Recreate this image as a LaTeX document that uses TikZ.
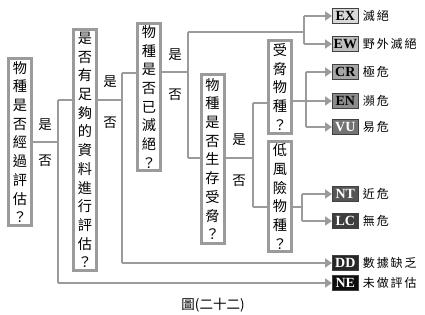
\documentclass[tikz,border=0pt]{standalone}
\usepackage{fontspec}
\setmainfont{Liberation Serif}
\newfontfamily\cjk{Noto Sans CJK TC}
\newfontfamily\cjkl[LetterSpace=16]{Noto Sans CJK TC}
\usetikzlibrary{arrows.meta}
\definecolor{ln}{HTML}{9B9B9B}
\definecolor{cEX}{HTML}{D9D9D9}
\definecolor{cEW}{HTML}{BFBFBF}
\definecolor{cCR}{HTML}{A6A6A6}
\definecolor{cEN}{HTML}{8C8C8C}
\definecolor{cVU}{HTML}{737373}
\definecolor{cNT}{HTML}{555555}
\definecolor{cLC}{HTML}{3E3E3E}
\definecolor{cDD}{HTML}{262626}
\definecolor{cNE}{HTML}{0D0D0D}
\tikzset{
  qbox/.style={draw=ln, line width=3pt, fill=white, inner sep=0pt,
    minimum width=23pt, align=center,
    font=\cjk\fontsize{14.2}{18.7}\selectfont},
  con/.style={draw=ln, line width=2.8pt},
  arr/.style={con, -{Triangle[length=7pt,width=9pt]}},
  code/.style={draw=black!75, line width=0.7pt, minimum width=26pt,
    minimum height=14.5pt, inner sep=0pt, anchor=west,
    font=\bfseries\fontsize{14}{14}\selectfont},
  lab/.style={anchor=west, inner sep=0pt, font=\cjkl\fontsize{12}{12}\selectfont},
  yn/.style={inner sep=0pt, font=\cjk\fontsize{13.5}{13.5}\selectfont},
}
\begin{document}
\begin{tikzpicture}[x=1pt,y=-1pt]
\useasboundingbox (0,0) rectangle (425,315);
% question boxes
\node[qbox, minimum height=167pt] (q1) at (20,142) {物\\種\\是\\否\\經\\過\\評\\估\\？};
\node[qbox, minimum height=241pt] (q2) at (85,150) {是\\否\\有\\足\\夠\\的\\資\\料\\進\\行\\評\\估\\？};
\node[qbox, minimum height=147pt] (q3) at (149,97) {物\\種\\是\\否\\已\\滅\\絕\\？};
\node[qbox, minimum height=169pt] (q4) at (212.5,159) {物\\種\\是\\否\\生\\存\\受\\脅\\？};
\node[qbox, minimum height=93pt] (q5) at (280,87) {受\\脅\\物\\種\\？};
\node[qbox, minimum height=110pt] (q6) at (280,196.5) {低\\風\\險\\物\\種\\？};
% yes / no labels
\node[yn] (y1) at (45,125) {是};
\node[yn] (n1) at (45,161) {否};
\node[yn] (y2) at (110,82) {是};
\node[yn] (n2) at (110,123) {否};
\node[yn] (y3) at (175,55) {是};
\node[yn] (n3) at (175,95) {否};
\node[yn] (y4) at (239,140) {是};
\node[yn] (n4) at (239,181) {否};
% code boxes
\node[code, fill=cEX] (EX) at (332,16) {EX};
\node[code, fill=cEW] (EW) at (332,44) {EW};
\node[code, fill=cCR] (CR) at (332,72) {CR};
\node[code, fill=cEN] (EN) at (332,101) {EN};
\node[code, fill=cVU, text=white] (VU) at (332,127) {VU};
\node[code, fill=cNT, text=white] (NT) at (332,194) {NT};
\node[code, fill=cLC, text=white] (LC) at (332,221) {LC};
\node[code, fill=cDD, text=white] (DD) at (332,263) {DD};
\node[code, fill=cNE, text=white] (NE) at (332,283) {NE};
% labels
\node[lab] (lEX) at ([xshift=4pt]EX.east) {滅絕};
\node[lab] (lEW) at ([xshift=4pt]EW.east) {野外滅絕};
\node[lab] (lCR) at ([xshift=4pt]CR.east) {極危};
\node[lab] (lEN) at ([xshift=4pt]EN.east) {瀕危};
\node[lab] (lVU) at ([xshift=4pt]VU.east) {易危};
\node[lab] (lNT) at ([xshift=4pt]NT.east) {近危};
\node[lab] (lLC) at ([xshift=4pt]LC.east) {無危};
\node[lab] (lDD) at ([xshift=4pt]DD.east) {數據缺乏};
\node[lab] (lNE) at ([xshift=4pt]NE.east) {未做評估};
% caption
\node[yn] (cap) at (213,305) {圖(二十二)};
% junction coordinates
\coordinate (b1t) at (58,100);
\coordinate (b1b) at (58,283);
\coordinate (b2t) at (122,73);
\coordinate (b2b) at (122,263);
\coordinate (b3t) at (188,32);
\coordinate (b3b) at (188,158);
\coordinate (b4t) at (253,103);
\coordinate (b4b) at (253,207);
\coordinate (b5) at (304,32);
\coordinate (b6) at (306,101);
\coordinate (b7) at (302,207);
% connectors level 1
\draw[con] (q1.east |- 0,142) -- (b1t |- 0,142);
\draw[con] (b1t) -- (b1b);
\draw[con] (b1t) -- (q2.west |- b1t);
\draw[arr] (b1b) -- (NE.west);
% level 2
\draw[con] (q2.east |- b1t) -- (b2t |- b1t);
\draw[con] (b2t) -- (b2b);
\draw[con] (b2t) -- (q3.west |- b2t);
\draw[arr] (b2b) -- (DD.west);
% level 3
\draw[con] (q3.east |- 0,72) -- (b3t |- 0,72);
\draw[con] (b3t) -- (b3b);
\draw[con] (b3b) -- (q4.west |- b3b);
\draw[con] (b3t) -- (b5);
\draw[con] (b5 |- EX.west) -- (b5 |- EW.west);
\draw[arr] (b5 |- EX.west) -- (EX.west);
\draw[arr] (b5 |- EW.west) -- (EW.west);
% level 4
\draw[con] (q4.east |- b3b) -- (b3b -| b4t);
\draw[con] (b4t) -- (b4b);
\draw[con] (b4t) -- (q5.west |- b4t);
\draw[con] (b4b) -- (q6.west |- b4b);
% threatened
\draw[con] (q5.east |- b6) -- (b6);
\draw[con] (b6 |- CR.west) -- (b6 |- VU.west);
\draw[arr] (b6 |- CR.west) -- (CR.west);
\draw[arr] (b6 |- EN.west) -- (EN.west);
\draw[arr] (b6 |- VU.west) -- (VU.west);
% low risk
\draw[con] (q6.east |- b7) -- (b7);
\draw[con] (b7 |- NT.west) -- (b7 |- LC.west);
\draw[arr] (b7 |- NT.west) -- (NT.west);
\draw[arr] (b7 |- LC.west) -- (LC.west);
\end{tikzpicture}
\end{document}
